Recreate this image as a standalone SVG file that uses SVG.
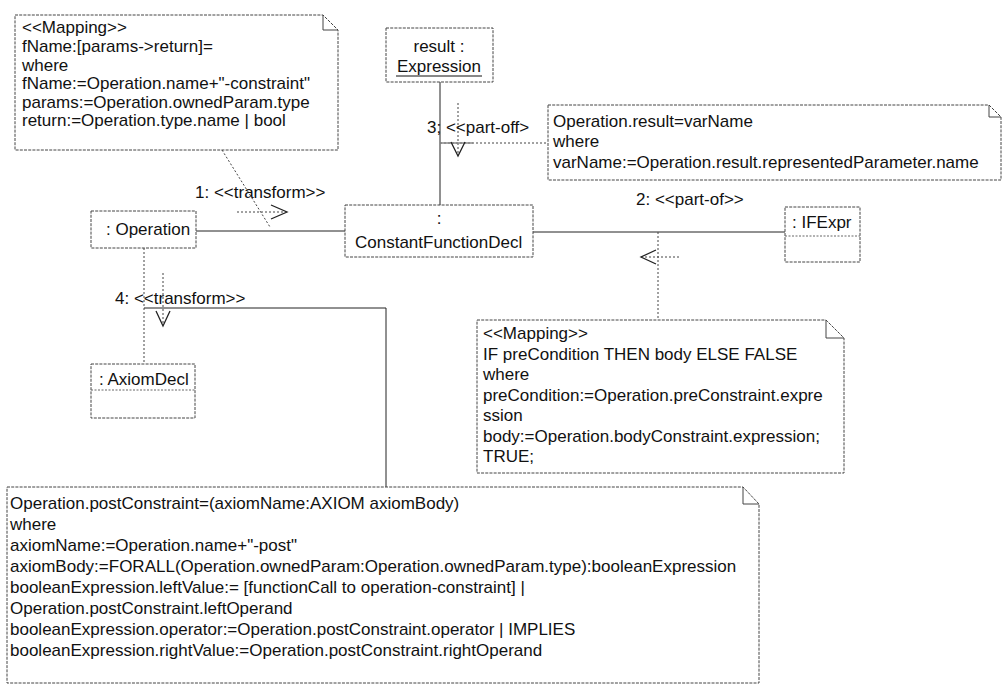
<svg xmlns="http://www.w3.org/2000/svg" width="1007" height="685" viewBox="0 0 1007 685">
<style>
  text { font-family: "Liberation Sans", Arial, sans-serif; font-size: 17px; fill: #111; }
  .box { fill: #fff; stroke: #444; stroke-width: 1; stroke-dasharray: 3 1.2; }
  .note { fill: #fff; stroke: #444; stroke-width: 1; stroke-dasharray: 3 1.2; }
  .fold { fill: none; stroke: #444; stroke-width: 1; }
  .sep { stroke: #666; stroke-width: 1; stroke-dasharray: 2 1.5; }
  .line { fill: none; stroke: #222; stroke-width: 1; }
  .dot { fill: none; stroke: #444; stroke-width: 1; stroke-dasharray: 2 2; }
  .head { fill: none; stroke: #222; stroke-width: 1.3; }
  .ul { stroke: #111; stroke-width: 1; }
</style>
<rect width="1007" height="685" fill="#fff"/>

<g id="connectors">
  <!-- Operation to ConstantFunctionDecl -->
  <line class="line" x1="196" y1="231" x2="345" y2="231"/>
  <!-- ConstantFunctionDecl to IFExpr -->
  <line class="line" x1="533" y1="232" x2="785" y2="232"/>
  <!-- result to ConstantFunctionDecl -->
  <line class="line" x1="440" y1="82" x2="440" y2="205"/>
  <!-- Operation to AxiomDecl -->
  <line class="dot" x1="144" y1="248" x2="144" y2="364"/>
  <!-- note anchors -->
  <line class="dot" x1="222" y1="150" x2="270" y2="227"/>
  <line class="dot" x1="440" y1="143" x2="548" y2="143"/>
  <line class="dot" x1="658" y1="232" x2="658" y2="320"/>
  <polyline class="line" points="144,308 386,308 386,487"/>
  <!-- message 1 arrow -->
  <line class="dot" x1="237" y1="212" x2="286" y2="212"/>
  <polyline class="head" points="271,205 287,212 271,219"/>
  <!-- message 3 arrow -->
  <line class="dot" x1="458" y1="103" x2="458" y2="155"/>
  <line x1="440" y1="143" x2="473" y2="143" stroke="#888" stroke-width="1.3"/>
  <polyline class="head" points="451,142 458,156 465,142"/>
  <!-- message 2 arrow -->
  <line class="dot" x1="641" y1="257" x2="681" y2="257"/>
  <polyline class="head" points="656,250 641,257 656,264"/>
  <!-- message 4 arrow -->
  <line class="dot" x1="163" y1="273" x2="163" y2="325"/>
  <polyline class="head" points="156,311 163,326 170,311"/>
  <!-- labels -->
  <text x="195" y="198">1: &lt;&lt;transform&gt;&gt;</text>
  <text x="636" y="205">2: &lt;&lt;part-of&gt;&gt;</text>
  <text x="427" y="133">3; &lt;&lt;part-off&gt;</text>
  <text x="115" y="304">4: &lt;&lt;transform&gt;&gt;</text>
</g>

<g id="note-fname">
  <path class="note" d="M15,15 H323 L338,30 V150 H15 Z"/>
  <path class="fold" d="M323,15 V30 H338"/>
  <text x="22" y="33">&lt;&lt;Mapping&gt;&gt;</text>
  <text x="22" y="52">fName:[params-&gt;return]=</text>
  <text x="22" y="71">where</text>
  <text x="22" y="89">fName:=Operation.name+"-constraint"</text>
  <text x="22" y="108">params:=Operation.ownedParam.type</text>
  <text x="22" y="126">return:=Operation.type.name | bool</text>
</g>

<g id="node-result">
  <rect class="box" x="386" y="28" width="107" height="54"/>
  <text x="439" y="52" text-anchor="middle">result :</text>
  <text x="439" y="72" text-anchor="middle">Expression</text>
  <line class="ul" x1="396" y1="76" x2="482" y2="76"/>
</g>

<g id="note-result">
  <path class="note" d="M548,105 H989 L1001,117 V180 H548 Z"/>
  <path class="fold" d="M989,105 V117 H1001"/>
  <text x="553" y="127">Operation.result=varName</text>
  <text x="553" y="147">where</text>
  <text x="553" y="168">varName:=Operation.result.representedParameter.name</text>
</g>

<g id="node-operation">
  <rect class="box" x="91" y="211" width="105" height="37"/>
  <text x="106" y="235">: Operation</text>
</g>

<g id="node-cfd">
  <rect class="box" x="345" y="205" width="188" height="52"/>
  <text x="439" y="224" text-anchor="middle">:</text>
  <text x="355" y="248">ConstantFunctionDecl</text>
</g>

<g id="node-ifexpr">
  <rect class="box" x="785" y="207" width="75" height="55"/>
  <line class="sep" x1="785" y1="236" x2="860" y2="236"/>
  <text x="792" y="228">: IFExpr</text>
</g>

<g id="node-axiomdecl">
  <rect class="box" x="91" y="364" width="104" height="54"/>
  <line class="sep" x1="91" y1="390" x2="195" y2="390"/>
  <text x="99" y="385">: AxiomDecl</text>
</g>

<g id="note-if">
  <path class="note" d="M477,320 H826 L844,338 V473 H477 Z"/>
  <path class="fold" d="M826,320 V338 H844"/>
  <text x="483" y="339">&lt;&lt;Mapping&gt;&gt;</text>
  <text x="483" y="359.5">IF preCondition THEN body ELSE FALSE</text>
  <text x="483" y="380">where</text>
  <text x="483" y="400.5">preCondition:=Operation.preConstraint.expre</text>
  <text x="483" y="421">ssion</text>
  <text x="483" y="441.5">body:=Operation.bodyConstraint.expression;</text>
  <text x="483" y="462">TRUE;</text>
</g>

<g id="note-post">
  <path class="note" d="M7,487 H743 L759,504 V683 H7 Z"/>
  <path class="fold" d="M743,487 V504 H759"/>
  <text x="10" y="509">Operation.postConstraint=(axiomName:AXIOM axiomBody)</text>
  <text x="10" y="530">where</text>
  <text x="10" y="551">axiomName:=Operation.name+"-post"</text>
  <text x="10" y="572">axiomBody:=FORALL(Operation.ownedParam:Operation.ownedParam.type):booleanExpression</text>
  <text x="10" y="593">booleanExpression.leftValue:= [functionCall to operation-constraint] |</text>
  <text x="10" y="614">Operation.postConstraint.leftOperand</text>
  <text x="10" y="635">booleanExpression.operator:=Operation.postConstraint.operator | IMPLIES</text>
  <text x="10" y="656">booleanExpression.rightValue:=Operation.postConstraint.rightOperand</text>
</g>
</svg>
